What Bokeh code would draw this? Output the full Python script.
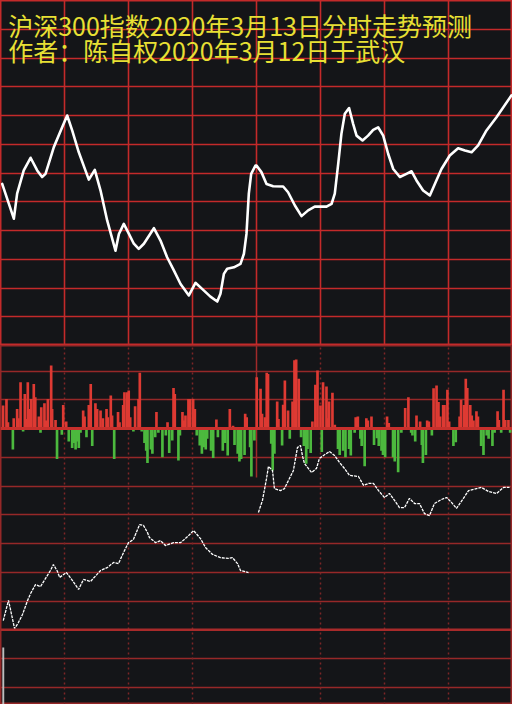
from bokeh.plotting import figure
from bokeh.models import Grid, FixedTicker, Span, Label, Range1d, GlobalInlineStyleSheet
from bokeh.layouts import column
from bokeh.embed import file_html
from bokeh.resources import INLINE

# ---------------- data ----------------
title_1 = "沪深300指数2020年3月13日分时走势预测"
title_2 = "作者：陈自权2020年3月12日于武汉"

# upper panel: predicted index path (minute of session, level in grid units)
up_min = [0.8, 6.25, 7.8, 10.9, 14.1, 17.2, 19.5, 21.1, 25.0, 28.9, 31.25, 33.6, 36.7, 39.8,
          41.4, 44.2, 46.9, 50.0, 53.9, 55.5, 57.8, 60.2, 62.5, 64.8, 67.2, 71.9, 75.0, 78.1,
          81.25, 84.4, 88.3, 91.4, 94.5, 98.4, 101.6, 103.1, 104.7, 106.25, 109.4, 112.5, 114.1,
          115.3, 116.4, 117.5, 119.5, 120.0, 122.3, 124.7, 127.8, 132.5, 134.8, 138.0, 141.1,
          144.2, 147.3, 152.8, 155.2, 156.7, 158.3, 159.8, 161.4, 163.4, 165.3, 166.9, 169.7,
          172.3, 174.7, 177.0, 179.4, 181.7, 184.1, 187.2, 190.3, 192.7, 195.0, 198.1, 201.25,
          203.6, 206.7, 210.6, 214.5, 217.7, 220.8, 223.9, 227.8, 232.5, 239.5]
up_val = [5.62, 4.41, 5.28, 6.09, 6.53, 6.09, 5.86, 5.97, 6.90, 7.59, 8.00, 7.48, 6.72, 6.09,
          5.77, 6.11, 5.39, 4.35, 3.30, 3.88, 4.23, 3.88, 3.54, 3.36, 3.54, 4.08, 3.65, 3.07,
          2.61, 2.14, 1.74, 2.18, 1.97, 1.70, 1.53, 1.80, 2.49, 2.67, 2.72, 2.84, 3.19,
          3.88, 5.28, 5.97, 6.26, 6.26, 6.03, 5.62, 5.54, 5.53, 5.33, 4.87, 4.50,
          4.70, 4.83, 4.83, 4.93, 5.28, 6.32, 7.36, 8.06, 8.26, 7.71, 7.30, 7.13,
          7.30, 7.50, 7.59, 7.30, 6.67, 6.14, 5.86, 5.97, 6.06, 5.74, 5.39, 5.22,
          5.62, 6.14, 6.61, 6.86, 6.78, 6.72, 6.96, 7.48, 7.94, 8.70]

# lower panel: buy (red) / sell (green) bars per minute
red_min = [1.2, 2.8, 3.5, 6.2, 7.8, 8.4, 9.4, 11.4, 11.9, 12.8, 13.6, 14.4, 15.6, 16.3, 18.0,
           19.1, 20.6, 21.4, 22.2, 23.75, 24.2, 25.8, 29.4, 30.8, 38.75, 39.4, 41.4, 42.3,
           44.5, 45.3, 46.9, 48.0, 49.7, 50.3, 51.7, 52.3, 55.1, 55.8, 57.5, 58.1, 59.4, 60.1,
           60.8, 63.1, 64.7, 65.3, 73.1, 78.3, 81.1, 81.7, 85.3, 85.9, 86.7, 88.1, 88.9, 90.3,
           91.1, 101.2, 107.5, 109.0, 114.7, 115.4, 120.1, 121.9, 122.6, 124.0, 124.8, 125.4,
           129.7, 130.3, 132.5, 133.3, 134.8, 136.9, 137.8, 138.6, 139.8, 146.2, 147.6, 148.6,
           150.0, 151.2, 152.8, 153.4, 154.0, 155.6, 156.7, 166.5, 167.5, 171.5, 172.2, 173.9,
           181.2, 182.0, 189.7, 191.2, 195.0, 196.7, 200.0, 200.8, 203.0, 204.4, 205.3, 206.1,
           207.5, 208.1, 209.5, 210.3, 215.2, 215.9, 217.3, 218.1, 218.8, 220.2, 220.9, 221.7,
           223.1, 223.8, 233.0, 233.6, 235.8, 236.6, 238.1]
red_val = [0.80, 1.03, 0.22, 0.36, 0.68, 0.36, 1.61, 1.20, 0.33, 1.61, 0.68, 1.03, 1.55, 1.09, 0.42,
           0.74, 0.88, 0.28, 1.03, 2.19, 0.68, 0.30, 0.82, 0.24, 0.63, 0.42, 0.82, 1.55,
           0.88, 0.68, 0.63, 0.36, 0.68, 0.39, 1.15, 0.45, 0.57, 0.22, 0.82, 1.26, 1.26, 1.32,
           0.39, 0.77, 1.03, 1.94, 0.57, 0.22, 1.41, 1.20, 0.57, 0.28, 0.45, 1.03, 1.03, 1.03,
           0.68, 0.31, 0.68, 0.10, 0.51, 0.39, 1.78, 1.38, 0.51, 0.39, 1.94, 1.90,
           0.94, 0.33, 0.83, 1.67, 0.63, 0.94, 2.37, 2.40, 1.73, 0.24, 1.52, 2.02,
           0.80, 1.61, 1.46, 0.36, 0.94, 1.24, 0.13, 0.39, 0.42, 0.36, 0.28, 0.42,
           0.42, 0.19, 0.71, 1.09, 0.45, 0.24, 0.28, 0.24, 1.40, 1.50, 0.92, 0.42,
           0.82, 0.82, 1.35, 0.24, 0.42, 1.00, 0.82, 1.73, 1.41, 0.82, 0.45, 0.28,
           0.60, 0.42, 0.60, 0.30, 1.35, 0.30, 0.30]
green_min = [5.8, 10.6, 18.75, 26.5, 28.75, 32.0, 33.6, 34.4, 35.2, 36.0, 36.7, 37.5, 40.3, 43.0,
             47.0, 53.3, 62.3, 66.2, 67.5, 68.3, 68.9, 70.5, 71.2, 72.5, 74.0, 75.9, 77.5, 79.1,
             80.5, 83.4, 84.1, 92.0, 93.4, 94.4, 95.5, 96.2, 96.9, 98.7, 99.7, 101.9, 104.2,
             105.3, 106.5, 109.7, 111.2, 112.0, 112.8, 114.4, 117.0, 117.6, 119.0, 126.9, 127.6,
             128.4, 132.0, 135.6, 140.9, 142.2, 143.3, 143.9, 145.4, 150.6, 158.2, 159.0, 160.6,
             161.7, 163.4, 164.2, 166.0, 168.7, 169.3, 170.7, 175.1, 176.5, 177.3, 178.6, 179.3,
             180.3, 184.0, 184.8, 186.4, 187.9, 192.5, 193.1, 194.4, 197.5, 198.0, 199.4, 202.2,
             212.3, 213.4, 225.3, 226.4, 227.9, 228.8, 230.6, 231.6, 234.7, 238.9]
green_val = [-0.73, -0.10, -0.15, -1.06, -0.22, -0.45, -0.68, -0.50, -0.73, -0.45, -0.68, -0.15, -0.30, -0.61,
             -0.05, -1.06, -0.10, -0.10, -0.50, -0.77, -1.20, -0.73, -0.88, -0.30, -0.15, -1.00, -0.24, -0.85,
             -0.42, -1.11, -0.24, -0.24, -0.59, -0.88, -0.65, -0.73, -0.36, -0.77, -1.03, -0.30, -0.77,
             -0.50, -0.94, -0.57, -0.88, -1.15, -1.06, -0.92, -0.65, -1.67, -0.42, -0.53, -1.46,
             -0.88, -0.59, -0.36, -0.30, -0.61, -1.23, -0.71, -0.85, -0.82, -0.71, -0.92, -0.77,
             -1.00, -0.71, -0.94, -0.15, -0.36, -0.61, -1.31, -0.57, -0.34, -0.61, -0.77, -0.92,
             -1.00, -1.00, -1.15, -1.52, -0.15, -0.15, -0.24, -0.45, -0.57, -1.20, -0.92, -0.24,
             -0.61, -0.48, -0.61, -0.92, -0.24, -0.36, -0.61, -0.15, -0.15, -0.15]

# lower panel: actual intraday path, morning and afternoon sessions
am_min = [1.3, 3.75, 6.6, 8.4, 10.3, 12.7, 14.1, 16.4, 18.75, 23.4, 24.8, 26.7, 27.7, 30.9,
          33.75, 36.6, 38.9, 42.2, 46.9, 50.2, 53.0, 55.3, 57.7, 60.0, 62.3, 65.2, 67.0, 68.9,
          69.8, 72.7, 75.0, 77.3, 81.1, 84.4, 87.7, 90.5, 93.75, 96.1, 99.4, 103.1, 106.9,
          108.75, 111.1, 112.5, 116.25]
am_val = [-6.68, -5.98, -6.96, -6.75, -6.47, -5.98, -5.74, -5.43, -5.50, -4.94, -4.73, -4.97, -5.18, -5.01,
          -5.29, -5.60, -5.25, -5.32, -4.94, -4.83, -4.66, -4.70, -4.31, -3.97, -3.86, -3.34, -3.37, -3.62,
          -3.79, -3.97, -3.90, -4.07, -3.97, -3.97, -3.76, -3.55, -3.83, -4.14, -4.38, -4.49, -4.52,
          -4.49, -4.70, -4.94, -5.01]
pm_min = [120.9, 122.8, 124.7, 125.6, 127.5, 128.4, 131.25, 133.1, 137.3, 139.2, 140.6, 141.6,
          142.5, 145.8, 148.1, 149.5, 151.4, 154.2, 156.6, 158.9, 161.25, 163.6, 167.8, 170.2,
          172.5, 174.8, 177.2, 180.0, 182.3, 184.7, 187.0, 189.4, 191.7, 194.1, 196.4, 198.75,
          201.1, 203.4, 206.7, 209.1, 211.4, 213.75, 217.0, 219.4, 223.1, 225.5, 228.75, 232.5,
          235.8, 238.6]
pm_val = [-2.92, -2.50, -1.74, -1.32, -1.46, -2.09, -2.16, -2.09, -1.46, -0.66, -0.59, -0.97,
          -1.22, -1.53, -1.39, -1.04, -0.94, -0.80, -0.94, -1.18, -1.39, -1.63, -1.67, -1.98,
          -1.91, -1.91, -2.16, -2.40, -2.26, -2.50, -2.75, -2.75, -2.43, -2.61, -2.61, -2.96,
          -3.03, -2.61, -2.47, -2.40, -2.57, -2.78, -2.43, -2.16, -2.09, -2.05, -2.19, -2.26,
          -2.05, -2.05]
open_min = [1.3]
open_val = [-7.62]

session_ticks = [30, 60, 90, 150, 180, 210]
midday_tick = [120]

# ---------------- styling ----------------
W = 512
H_UP, H_LOW = 345, 359
BG = "#141518"
UP_GRID = "#c42a2a"
LOW_GRID = "#962828"
RED = "#de3a33"
GREEN = "#4cb93e"
YELLOW = "#e8e034"
PX_PER_UNIT = H_UP / 12.0
low_bottom = -9.6
low_top = low_bottom + H_LOW / PX_PER_UNIT

common = dict(width=W, output_backend="svg", toolbar_location=None,
              x_axis_location=None, y_axis_location=None, min_border=0,
              background_fill_color=BG, border_fill_color=BG)

up = figure(height=H_UP, x_range=Range1d(0, 240), y_range=Range1d(0, 12),
            outline_line_color=UP_GRID, outline_line_width=2, **common)
up.xgrid.visible = False
up.ygrid.visible = False
up.add_layout(Grid(dimension=0, ticker=FixedTicker(ticks=[30, 60, 90, 120, 150, 180, 210]),
                   grid_line_color=UP_GRID, grid_line_width=1.6))
up.add_layout(Grid(dimension=1, ticker=FixedTicker(ticks=list(range(1, 12))),
                   grid_line_color=UP_GRID, grid_line_width=1.6))
up.line(up_min, up_val, line_color="white", line_width=2.6, line_join="round", line_cap="round")
up.add_layout(Label(x=3.6, y=11.16, text=title_1, text_font="Noto Sans CJK SC",
                    text_font_size="25px", text_color=YELLOW, text_baseline="middle"))
up.add_layout(Label(x=3.6, y=10.28, text=title_2, text_font="Noto Sans CJK SC",
                    text_font_size="25px", text_color=YELLOW, text_baseline="middle"))

low = figure(height=H_LOW, x_range=Range1d(0, 240), y_range=Range1d(low_bottom, low_top),
             outline_line_color=LOW_GRID, outline_line_width=2, **common)
low.xgrid.visible = False
low.ygrid.visible = False
low.add_layout(Grid(dimension=1, ticker=FixedTicker(ticks=[t for t in range(-9, 3) if t not in (0, -7)]),
                    grid_line_color=LOW_GRID, grid_line_width=1.6))
low.add_layout(Grid(dimension=0, ticker=FixedTicker(ticks=session_ticks),
                    grid_line_color="#7c2626", grid_line_width=1.5, grid_line_dash="2 3"))
low.add_layout(Span(location=-7, dimension="width", line_color="#a82a2a", line_width=2.6))
low.segment(x0=midday_tick, x1=midday_tick, y0=[low_top], y1=[-1.7], line_color="#a02a2a", line_width=1.5)
low.vbar(x=red_min, top=red_val, bottom=0, width=1.25, fill_color=RED, line_color=None)
low.vbar(x=green_min, top=0, bottom=green_val, width=1.25, fill_color=GREEN, line_color=None)
low.add_layout(Span(location=0, dimension="width", line_color="#c8302c", line_width=3))
low.vbar(x=open_min, top=open_val, bottom=low_bottom, width=0.9, fill_color="#bdbdbd", line_color=None)
low.line(am_min, am_val, line_color="white", line_width=1.3, line_dash="3 1")
low.line(pm_min, pm_val, line_color="white", line_width=1.3, line_dash="3 1")

page = column(up, low, spacing=0,
              stylesheets=[GlobalInlineStyleSheet(css="html,body{margin:0;padding:0;background:#141518;overflow:hidden}")])

open("out.html", "w").write(file_html(page, INLINE))
